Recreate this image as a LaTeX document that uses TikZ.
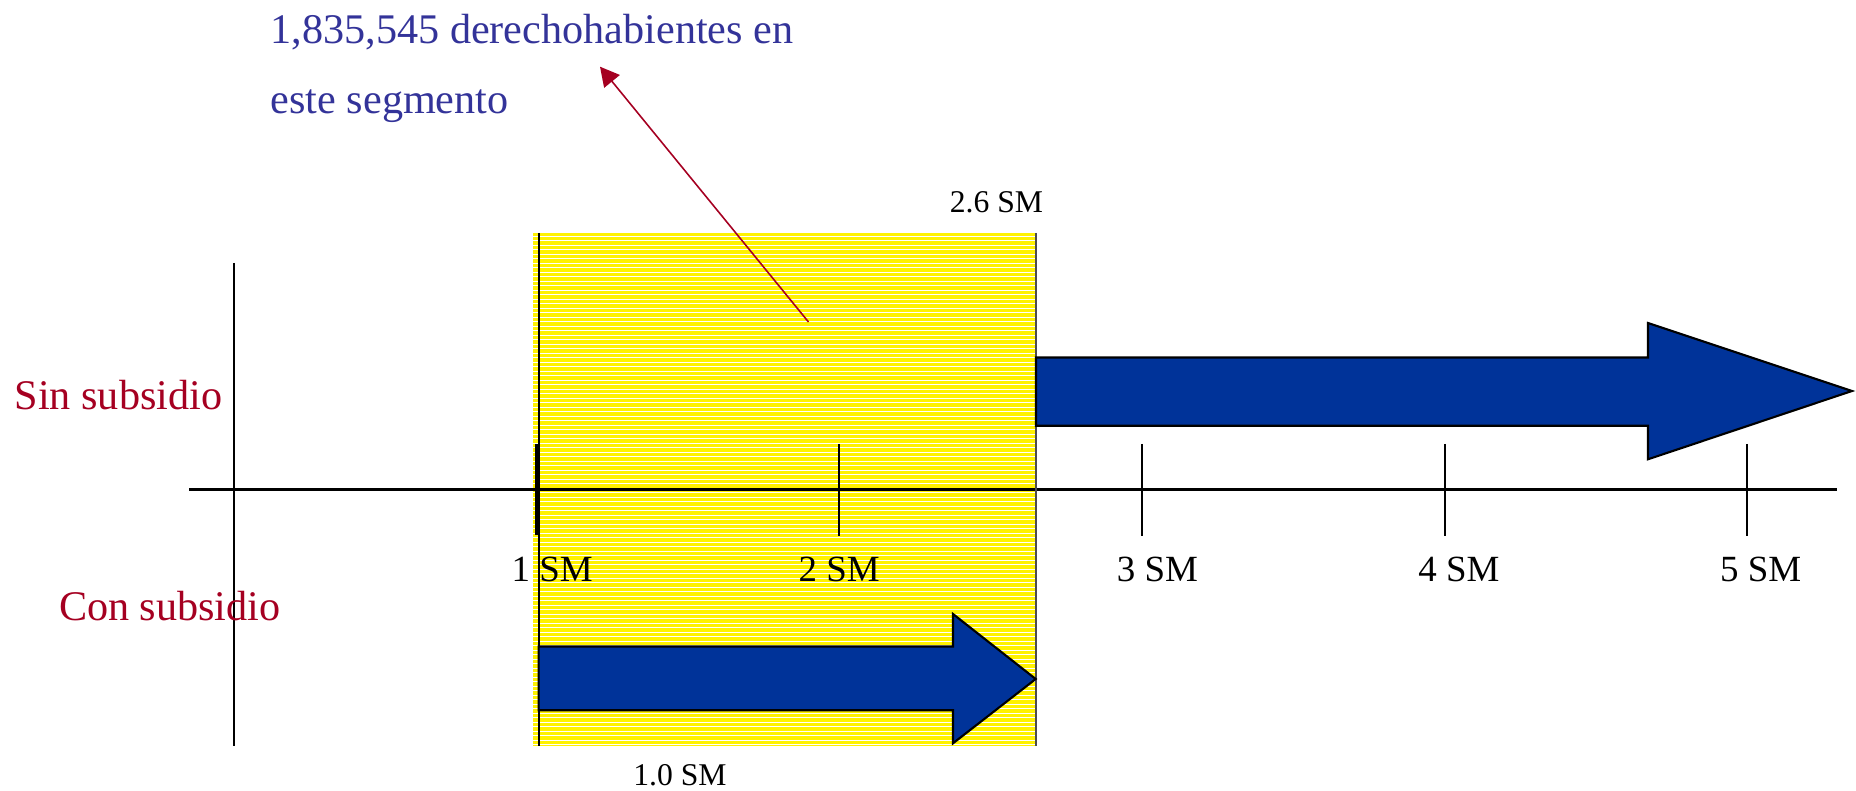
\documentclass[tikz,border=0pt]{standalone}
\usepackage{fontspec}
\setmainfont{Liberation Serif}
\usetikzlibrary{arrows.meta}
\definecolor{segblue}{HTML}{333399}
\definecolor{subred}{HTML}{A50021}
\definecolor{barblue}{HTML}{003399}

\begin{document}
\begin{tikzpicture}[x = 0.01cm, y = -0.01cm]
\useasboundingbox (0,0) rectangle (1856,791);
\tikzstyle{TickStyle}=[line width = 0.6pt]
\tikzstyle{SMLabel}=[inner sep = 0pt, anchor = base,
                     font = \fontsize{10.5}{12}\selectfont]
\tikzstyle{SideLabel}=[inner sep = 0pt, anchor = base west, text = subred,
                       font = \fontsize{12}{14}\selectfont]
\tikzstyle{SegLabel}=[inner sep = 0pt, anchor = base west, text = segblue,
                      font = \fontsize{12}{14}\selectfont]
\tikzstyle{BigArrow}=[fill = barblue, draw = black, line width = 0.6pt]
% yellow segment
\fill[yellow] (533,233) rectangle (1036,746);
\foreach \h in {236,240.5,...,745}
  \draw[white, line width = 0.25pt] (533,\h) -- (1036,\h);
% axis and ticks
\draw[TickStyle] (234.3,263) -- (234.3,746);
\draw[TickStyle] (189,489.5) -- (1837,489.5);
\draw[TickStyle] (539.3,233) -- (539.3,746);
\draw[line width = 1.1pt] (537.3,444) -- (537.3,535);
\foreach \x in {839.2,1141.9,1444.9,1746.7}
  \draw[TickStyle] (\x,444) -- (\x,535.7);
\draw[TickStyle, black!70] (1036,233) -- (1036,746);
% arrows
\draw[BigArrow] (1036,357.5) -- (1648,357.5) -- (1648,323) -- (1852,391)
  -- (1648,459.3) -- (1648,425.8) -- (1036,425.8) -- cycle;
\draw[BigArrow] (538.6,646.5) -- (953,646.5) -- (953,614) -- (1035.7,679)
  -- (953,743.3) -- (953,710.2) -- (538.6,710.2) -- cycle;
% labels
\node[SMLabel] (sm1) at (552.2,581) {1 SM};
\node[SMLabel] (sm2) at (839.2,581) {2 SM};
\node[SMLabel] (sm3) at (1157.5,581) {3 SM};
\node[SMLabel] (sm4) at (1458.9,581) {4 SM};
\node[SMLabel] (sm5) at (1760.7,581) {5 SM};
\node[SMLabel, font = \fontsize{9}{11}\selectfont] (smtop) at (996.5,213) {2.6 SM};
\node[SMLabel, font = \fontsize{9}{11}\selectfont] (smbot) at (679.9,785) {1.0 SM};
\node[SideLabel] (sin) at (14,410) {Sin subsidio};
\node[SideLabel] (con) at (58.3,620) {Con subsidio};
\node[SegLabel] (seg1) at (270,44) {1,835,545 derechohabientes en};
\node[SegLabel] (seg2) at (270,114) {este segmento};
\coordinate (pointer) at (808.5,322);
\coordinate (pointertip) at (600,66.7);
\draw[subred, line width = 0.45pt, -{Triangle[length = 0.19cm, width = 0.2cm]}]
  (pointer) -- (pointertip);
\end{tikzpicture}
\end{document}
